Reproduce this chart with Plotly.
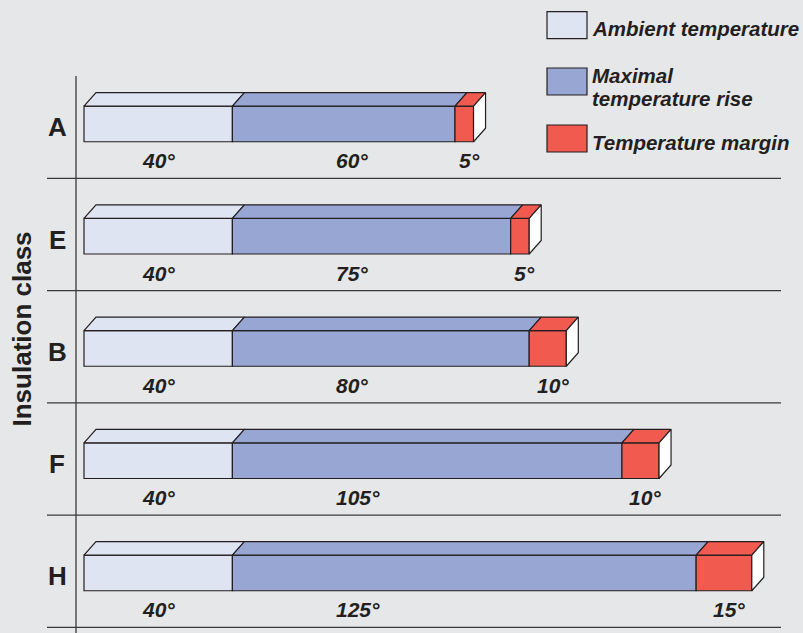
import plotly.graph_objects as go

# Insulation classes and their temperature budget (degrees C)
classes = ["A", "E", "B", "F", "H"]
ambient = [40, 40, 40, 40, 40]
rise = [60, 75, 80, 105, 125]
margin = [5, 5, 10, 10, 15]

series_names = ["Ambient temperature", "Maximal", "temperature rise", "Temperature margin"]
colors = ["#dfe4f2", "#98a6d4", "#f15a4f"]
END_COLOR = "#ffffff"
EDGE = "#231f20"
BG = "#e6e7e8"
FONT = "Liberation Sans, Arial, sans-serif"

# Figure geometry (pixels) and the matching axis scales
W, H = 803, 633
PX_PER_DEG = 3.71
X0_PX = 84.0
ROW0_PX = 123.9
ROW_PX = 112.25

BAR_W = 35.7 / ROW_PX          # front-face height in row units
DX = 12.0 / PX_PER_DEG         # depth offset along x (degrees)
DY = 13.5 / ROW_PX             # depth offset along y (rows)

fig = go.Figure()

ypos = list(range(len(classes)))
segments = [ambient, rise, margin]
bases = [
    [0] * len(classes),
    ambient,
    [a + r for a, r in zip(ambient, rise)],
]

# Front faces as stacked horizontal bars
for vals, base, col in zip(segments, bases, colors):
    fig.add_trace(go.Bar(
        y=ypos, x=vals, base=base, orientation="h", width=BAR_W,
        marker=dict(color=col, line=dict(color=EDGE, width=1.2)),
        showlegend=False, hoverinfo="skip",
    ))

# Top faces (parallelograms) for each segment
for vals, base, col in zip(segments, bases, colors):
    xs, ys = [], []
    for i, (v, b) in enumerate(zip(vals, base)):
        top = i - BAR_W / 2
        x0, x1 = b, b + v
        xs += [x0, x1, x1 + DX, x0 + DX, x0, None]
        ys += [top, top, top - DY, top - DY, top, None]
    fig.add_trace(go.Scatter(
        x=xs, y=ys, mode="lines", fill="toself", fillcolor=col,
        line=dict(color=EDGE, width=1.2), showlegend=False, hoverinfo="skip",
    ))

# White end caps on the right side of each bar
xs, ys = [], []
for i in ypos:
    xe = ambient[i] + rise[i] + margin[i]
    top, bot = i - BAR_W / 2, i + BAR_W / 2
    xs += [xe, xe + DX, xe + DX, xe, xe, None]
    ys += [top, top - DY, bot - DY, bot, top, None]
fig.add_trace(go.Scatter(
    x=xs, y=ys, mode="lines", fill="toself", fillcolor=END_COLOR,
    line=dict(color=EDGE, width=1.2), showlegend=False, hoverinfo="skip",
))

annotations = []
LABEL_DY = 0.33
val_font = dict(family=FONT, size=21, color=EDGE)
for i in ypos:
    a, r, m = ambient[i], rise[i], margin[i]
    annotations.append(dict(x=a / 2, y=i + LABEL_DY, text=f"<b><i>{a}°</i></b>",
                            xanchor="center", yanchor="middle",
                            showarrow=False, font=val_font, xref="x", yref="y"))
    # rise labels share a common left edge
    annotations.append(dict(x=a + 27.3, y=i + LABEL_DY, text=f"<b><i>{r}°</i></b>",
                            xanchor="left", yanchor="middle",
                            showarrow=False, font=val_font, xref="x", yref="y"))
    annotations.append(dict(x=a + r + m / 2 + 1.3, y=i + LABEL_DY, text=f"<b><i>{m}°</i></b>",
                            xanchor="center", yanchor="middle",
                            showarrow=False, font=val_font, xref="x", yref="y"))
    # class letter
    annotations.append(dict(x=57 / W, y=i + 0.03, text=f"<b>{classes[i]}</b>",
                            xanchor="center", yanchor="middle",
                            showarrow=False, xref="paper", yref="y",
                            font=dict(family=FONT, size=26, color=EDGE)))

# Axis title
annotations.append(dict(x=21.5 / W, y=1 - 329 / H, text="<b>Insulation class</b>",
                        xanchor="center", yanchor="middle",
                        textangle=-90, showarrow=False, xref="paper", yref="paper",
                        font=dict(family=FONT, size=26, color=EDGE)))

shapes = []
# Row separators
for i in ypos:
    shapes.append(dict(type="line", xref="paper", yref="y",
                       x0=47 / W, x1=781 / W, y0=i + 0.485, y1=i + 0.485,
                       line=dict(color="#3a3a3a", width=1.3)))
# Vertical axis line
shapes.append(dict(type="line", xref="paper", yref="paper",
                   x0=76 / W, x1=76 / W, y0=0, y1=1 - 76 / H,
                   line=dict(color="#3a3a3a", width=1.3)))

# Legend swatches and labels
leg_font = dict(family=FONT, size=20.5, color=EDGE)
swatch_tops = [11.7, 68, 125]
for col, t in zip(colors, swatch_tops):
    shapes.append(dict(type="rect", xref="paper", yref="paper",
                       x0=547 / W, x1=587 / W, y0=1 - t / H, y1=1 - (t + 27) / H,
                       fillcolor=col, line=dict(color=EDGE, width=1.2)))
leg_text_y = [28, 75, 98, 143]
for name, ty in zip(series_names, leg_text_y):
    annotations.append(dict(x=590 / W, y=1 - ty / H, text=f"<b><i>{name}</i></b>",
                            xanchor="left", yanchor="middle", showarrow=False,
                            xref="paper", yref="paper", font=leg_font))

fig.update_layout(
    width=W, height=H,
    margin=dict(l=0, r=0, t=0, b=0),
    paper_bgcolor=BG, plot_bgcolor=BG,
    barmode="overlay",
    xaxis=dict(range=[-X0_PX / PX_PER_DEG, (W - X0_PX) / PX_PER_DEG],
               visible=False, fixedrange=True),
    yaxis=dict(range=[(H - ROW0_PX) / ROW_PX, -ROW0_PX / ROW_PX],
               visible=False, fixedrange=True),
    shapes=shapes,
    annotations=annotations,
)

fig.write_html("out.html")
